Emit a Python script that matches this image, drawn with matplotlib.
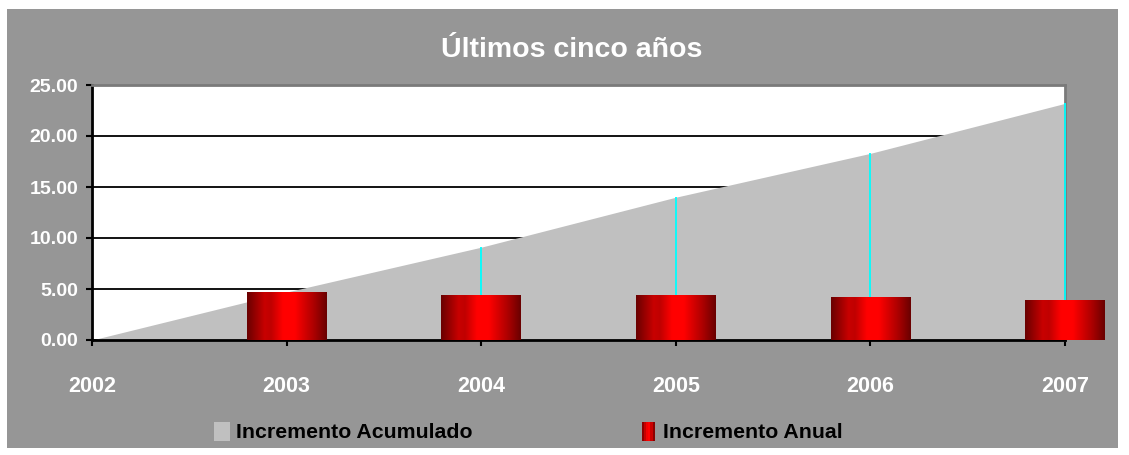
import numpy as np
import matplotlib.pyplot as plt
from matplotlib.patches import Rectangle
from matplotlib.colors import LinearSegmentedColormap
from matplotlib.legend_handler import HandlerBase

years = [2002, 2003, 2004, 2005, 2006, 2007]
year_labels = ["2002", "2003", "2004", "2005", "2006", "2007"]
acumulado = [0.0, 4.7, 9.1, 14.0, 18.3, 23.2]
anual_years = [2003, 2004, 2005, 2006, 2007]
anual = [4.7, 4.4, 4.4, 4.2, 3.9]

plt.rcParams['font.family'] = ['Liberation Sans', 'DejaVu Sans']

bar_cmap = LinearSegmentedColormap.from_list(
    "barra",
    [(0.0, "#6a0000"), (0.22, "#c80000"), (0.3, "#c00000"),
     (0.45, "#ff0000"), (0.6, "#ff0000"), (0.85, "#a80000"), (1.0, "#6a0000")])
grad = np.linspace(0, 1, 200).reshape(1, -1)


class GradientHandler(HandlerBase):
    def create_artists(self, legend, orig_handle, xdescent, ydescent,
                       width, height, fontsize, trans):
        w = width * 0.8
        x0 = -xdescent + (width - w) / 2
        n = 6
        arts = []
        for i in range(n):
            r = Rectangle((x0 + i * w / n, -ydescent), w / n, height,
                          facecolor=bar_cmap((i + 0.5) / n), edgecolor="none",
                          transform=trans)
            arts.append(r)
        return arts


fig = plt.figure(figsize=(11.29, 4.55), dpi=100)
fig.patch.set_facecolor("white")
fig.add_artist(Rectangle((7 / 1129, 1 - 448 / 455), 1111 / 1129, 439 / 455,
                         transform=fig.transFigure, facecolor="#969696",
                         edgecolor="none", zorder=-10))

ax = fig.add_axes([92 / 1129, 1 - 340 / 455, 973 / 1129, 255 / 455])
ax.set_facecolor("white")

area = ax.fill_between(years, acumulado, 0, color="#c0c0c0", lw=0, zorder=1,
                       label="Incremento Acumulado")
ax.vlines(anual_years, 0, acumulado[1:], color="#00ffff", lw=1.3, zorder=2.7,
          clip_on=False)

bw = 0.41
for x, h in zip(anual_years, anual):
    im = ax.imshow(grad, cmap=bar_cmap, aspect="auto", interpolation="bilinear",
                   extent=[x - bw / 2, x + bw / 2, 0, h], zorder=3)
    im.set_clip_on(False)

ax.set_xlim(2002, 2007)
ax.set_ylim(0, 25)
ax.set_xticks(years)
ax.set_xticklabels(year_labels)
ax.set_yticks(np.arange(0, 26, 5))
ax.set_yticklabels([f"{v:.2f}" for v in np.arange(0, 26, 5)])

ax.set_axisbelow(True)
ax.yaxis.grid(True, color="black", lw=1.3)
ax.tick_params(axis="y", colors="black", labelcolor="white", labelsize=14,
               length=4, width=1.5, pad=6)
ax.tick_params(axis="x", colors="black", labelcolor="white", labelsize=15.5,
               length=4, width=1.5, pad=22)
for lab in ax.get_xticklabels() + ax.get_yticklabels():
    lab.set_fontweight("bold")

for s in ["left", "bottom"]:
    ax.spines[s].set_color("black")
    ax.spines[s].set_linewidth(2)
for s in ["top", "right"]:
    ax.spines[s].set_color("#7a7a7a")
    ax.spines[s].set_linewidth(2)

fig.text(572 / 1129, 1 - 50 / 455, "Últimos cinco años", color="white",
         fontsize=20.5, fontweight="bold", ha="center", va="center")

red_handle = Rectangle((0, 0), 1, 1)
fig.legend([area, red_handle], ["Incremento Acumulado", "Incremento Anual"],
           handler_map={Rectangle: GradientHandler()},
           loc="center", bbox_to_anchor=(528 / 1129, 1 - 432 / 455), ncol=2,
           frameon=False, prop={"size": 15.3, "weight": "bold"},
           handlelength=0.75, handleheight=1.0, handletextpad=0.3,
           columnspacing=7.9)

fig.savefig("out.png", dpi=100, facecolor="white")
